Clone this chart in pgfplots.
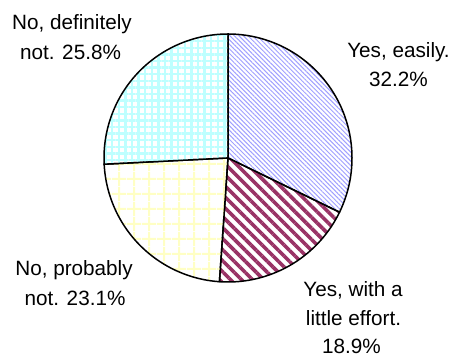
\documentclass[border=0pt]{standalone}
\usepackage{fontspec}
\setmainfont{Liberation Sans}
\usepackage{pgfplots}
\usepackage{pgfplotstable}
\pgfplotsset{compat=1.18}
\usetikzlibrary{patterns.meta}

\definecolor{cLav}{RGB}{160,160,255}
\definecolor{cMar}{RGB}{153,51,102}
\definecolor{cYel}{RGB}{255,255,196}
\definecolor{cCya}{RGB}{190,255,255}

% shares (percent), clockwise from 12 o'clock
\pgfplotstableread{
value
32.2
18.9
23.1
25.8
}\piedata

\pgfplotstablegetelem{0}{value}\of\piedata \let\vA\pgfplotsretval
\pgfplotstablegetelem{1}{value}\of\piedata \let\vB\pgfplotsretval
\pgfplotstablegetelem{2}{value}\of\piedata \let\vC\pgfplotsretval
\pgfplotstablegetelem{3}{value}\of\piedata \let\vD\pgfplotsretval
\pgfmathsetmacro\aA{90}
\pgfmathsetmacro\aB{\aA-3.6*\vA}
\pgfmathsetmacro\aC{\aB-3.6*\vB}
\pgfmathsetmacro\aD{\aC-3.6*\vC}
\pgfmathsetmacro\aE{\aD-3.6*\vD}

\newcommand\cx{228}
\newcommand\cy{200}
\newcommand\rr{124}
\newcommand\lblfont{\fontsize{20.7bp}{30bp}\selectfont}
\tikzset{lbl/.style={font=\lblfont, inner sep=0pt, outer sep=0pt, anchor=base}}

\begin{document}
\begin{tikzpicture}
\begin{axis}[
  at={(0,0)}, anchor=south west,
  scale only axis, width=457bp, height=358bp,
  xmin=0, xmax=457, ymin=0, ymax=358,
  hide axis, clip=false,
]
\addplot[mark=none, draw=black, line width=1.5bp, samples=90, variable=\t, domain=\aB:\aA,
  pattern={Lines[angle=-45, distance=3.2bp, line width=1.0bp]}, pattern color=cLav]
  ({\cx+\rr*cos(\t)},{\cy+\rr*sin(\t)}) -- (axis cs:\cx,\cy) -- cycle;
\addplot[mark=none, draw=black, line width=1.5bp, samples=60, variable=\t, domain=\aC:\aB,
  pattern={Lines[angle=-45, distance=7.8bp, line width=3.6bp]}, pattern color=cMar]
  ({\cx+\rr*cos(\t)},{\cy+\rr*sin(\t)}) -- (axis cs:\cx,\cy) -- cycle;
\addplot[mark=none, draw=black, line width=1.5bp, samples=60, variable=\t, domain=\aD:\aC,
  pattern={Hatch[distance=15bp, line width=2bp]}, pattern color=cYel]
  ({\cx+\rr*cos(\t)},{\cy+\rr*sin(\t)}) -- (axis cs:\cx,\cy) -- cycle;
\addplot[mark=none, draw=black, line width=1.5bp, samples=70, variable=\t, domain=\aE:\aD,
  pattern={Hatch[distance=6.6bp, line width=2.4bp]}, pattern color=cCya]
  ({\cx+\rr*cos(\t)},{\cy+\rr*sin(\t)}) -- (axis cs:\cx,\cy) -- cycle;

\node[lbl] at (axis cs:72,328) {No, definitely};
\node[lbl] at (axis cs:70.5,298) {not. 25.8\%};
\node[lbl] at (axis cs:398.5,300.5) {Yes, easily.};
\node[lbl] at (axis cs:398.5,271.5) {32.2\%};
\node[lbl] at (axis cs:353,61.5) {Yes, with a};
\node[lbl] at (axis cs:353.5,32.5) {little effort.};
\node[lbl] at (axis cs:351.5,4) {18.9\%};
\node[lbl] at (axis cs:74,82) {No, probably};
\node[lbl] at (axis cs:75,52.5) {not. 23.1\%};
\end{axis}
\pgfresetboundingbox
\path[use as bounding box] (0,0) rectangle (457bp,358bp);
\end{tikzpicture}
\end{document}
